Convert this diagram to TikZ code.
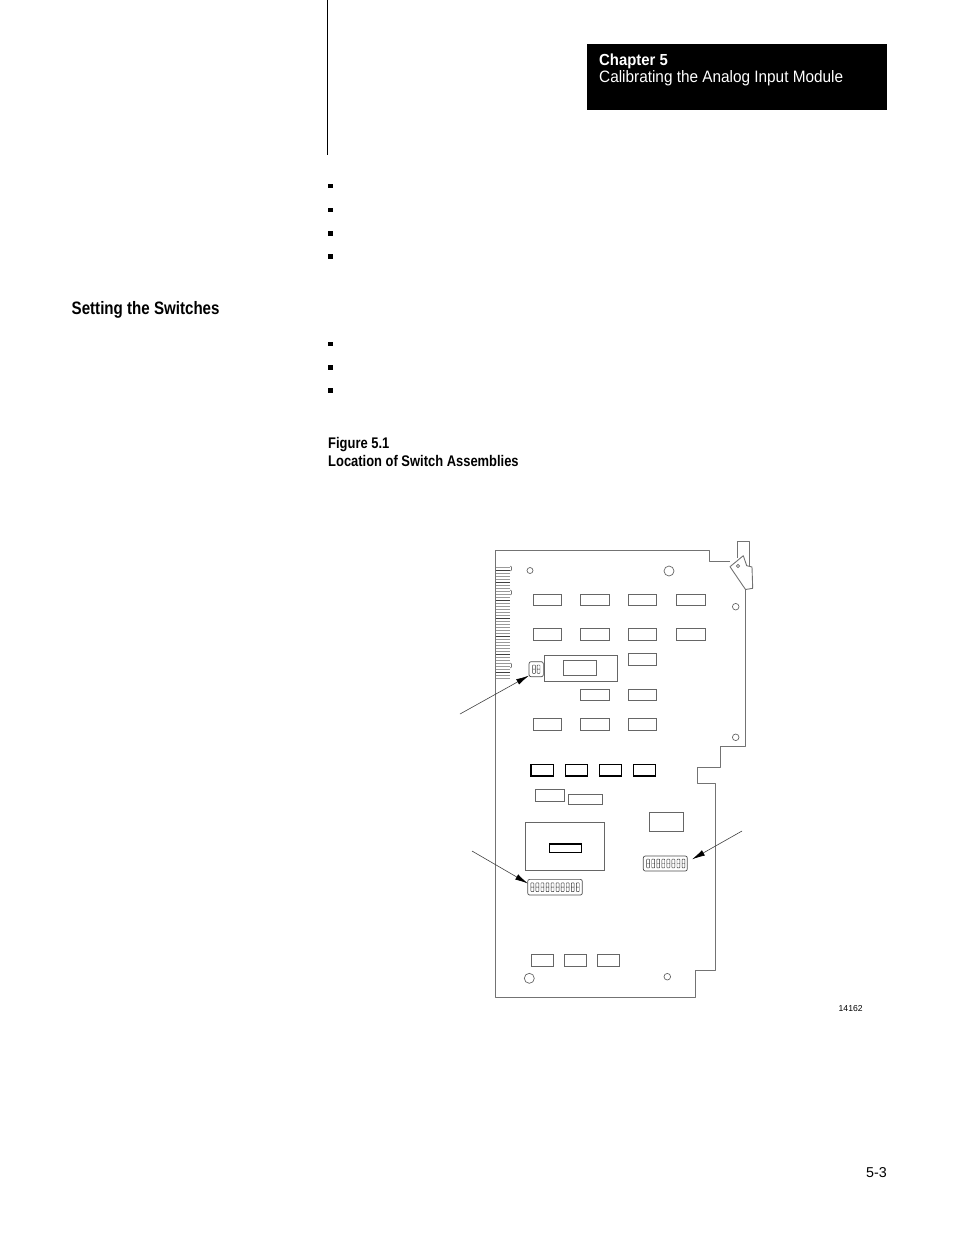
\documentclass[tikz,border=0pt]{standalone}
\usepackage{fontspec}
\setmainfont{Liberation Sans}
\newfontfamily\condbold{Liberation Sans Bold}[FakeStretch=0.84]
\newfontfamily\condreg{Liberation Sans}[FakeStretch=0.93]
\newfontfamily\condhb{Liberation Sans Bold}[FakeStretch=0.93]
\usetikzlibrary{arrows.meta}
\begin{document}
\begin{tikzpicture}[x=1pt,y=-1pt,
  board/.style={draw=black!55,line width=0.9pt,line join=round},
  chip/.style={draw=black!60,line width=0.8pt,fill=white},
  darkchip/.style={draw=black,line width=1.2pt,fill=white},
  hole/.style={draw=black!60,line width=0.7pt},
  bullet/.style={fill=black,minimum size=4.6pt,inner sep=0pt},
  switchbox/.style={draw=black!70,line width=0.7pt,rounded corners=2pt,inner sep=0pt},
  cell/.style={draw=black!80,line width=0.45pt},
  callout/.style={draw=black!75,line width=0.6pt,-{Latex[length=13pt,width=6pt,fill=black,color=black]}},
  txt/.style={anchor=base west,inner sep=0pt}]
\useasboundingbox (0,0) rectangle (954,1235);
% margin rule
\draw[line width=1pt] (327,0) -- (327,155);
% header box
\node[fill=black,anchor=north west,minimum width=300pt,minimum height=66pt,inner sep=0pt] (hdr) at (587,44) {};
\node[txt,text=white] (chap) at (599,65.7) {\fontsize{16}{18}\condhb Chapter 5};
\node[txt,text=white] (cal) at (599,82.5) {\fontsize{16.5}{18}\condreg Calibrating the Analog Input Module};
% bullets
\foreach \y [count=\i] in {186,210,233.3,256.7,344,367.3,390.7}
  \node[bullet] (b\i) at (330.5,\y) {};
% section heading
\node[txt] (sec) at (71.5,314) {\fontsize{18}{20}\condbold Setting the Switches};
% caption
\node[txt] (fig) at (328,448.3) {\fontsize{15.4}{18}\condbold Figure 5.1};
\node[txt] (loc) at (328,466) {\fontsize{15.4}{18}\condbold Location of Switch Assemblies};
% board outline
\draw[board] (730,561) -- (709,561) -- (709,550.7) -- (495.7,550.7) -- (495.7,997.3)
  -- (695.7,997.3) -- (695.7,970.7) -- (715.7,970.7) -- (715.7,783.3) -- (697.3,783.3)
  -- (697.3,767) -- (720,767) -- (720,746.7) -- (745.5,746.7) -- (745.5,589);
% ejector
\draw[board] (737.7,558) -- (737.7,541) -- (749.3,541) -- (749.3,566);
\draw[board] (730,566.7) -- (743.3,555.7) -- (746.7,565.7) -- (752,567) -- (752.7,588.3) -- (745.5,589.5) -- cycle;
\draw[hole] (738,566) circle (1.6);
% edge connector fingers
\foreach \i in {0,...,37}
  \draw[draw=black!40,line width=0.6pt] (495.7,567+3*\i) -- (510.3,567+3*\i);
\foreach \y in {570,582,600,618,636,654,672}
  \draw[draw=black!75,line width=0.6pt] (495.7,\y) -- (510.3,\y);
\foreach \y in {566,590,663}
  \draw[draw=black!55,line width=0.6pt] (510.3,\y) -- (511.5,\y+1) -- (511.5,\y+4) -- (510.3,\y+5);
% holes
\draw[hole] (530,570.5) circle (3);
\draw[hole] (669,571) circle (5);
\draw[hole] (735.7,606.7) circle (3.3);
\draw[hole] (735.7,737.3) circle (3.3);
\draw[hole] (529.3,978.3) circle (5);
\draw[hole] (667.3,976.7) circle (3.3);
% upper chips
\foreach \xa/\xb in {533.3/561.7,580.7/609.3,628.3/656.7,676/705} {
  \draw[chip] (\xa,594) rectangle (\xb,605.7);
  \draw[chip] (\xa,628.3) rectangle (\xb,640);
}
\draw[chip] (544.3,655) rectangle (617.7,681.7);
\draw[chip] (563.3,660.7) rectangle (596.7,675.7);
\draw[chip] (628.3,653.3) rectangle (656.7,665);
\foreach \xa/\xb in {580.7/609.3,628.3/656.7}
  \draw[chip] (\xa,689) rectangle (\xb,700.7);
\foreach \xa/\xb in {533.3/561.7,580.7/609.3,628.3/656.7}
  \draw[chip] (\xa,718.3) rectangle (\xb,730);
% dark chip row
\foreach \xa/\xb in {531/553.3,565.7/587.3,599.3/621.7,633.3/655.7}
  \draw[darkchip] (\xa,764.3) rectangle (\xb,776);
\draw[chip] (535.7,789.3) rectangle (564.3,801);
\draw[chip] (568.3,794.3) rectangle (602.3,804);
\draw[chip] (525.7,822.3) rectangle (604.3,870);
\draw[darkchip] (549.3,844) rectangle (581.7,852.7);
\draw[chip] (649.3,812.3) rectangle (683.3,831);
\foreach \xa/\xb in {531/553.3,564.3/586.7,597.3/619.3}
  \draw[chip] (\xa,954.3) rectangle (\xb,966.7);
% switch assemblies
\node[switchbox,minimum width=14.3pt,minimum height=15pt] (sw1) at (536.2,669.2) {};
\foreach \k in {0,1}
  \draw[cell,rounded corners=0.6pt] (532.6+4.6*\k,665) rectangle ++(2.8,8.4)
    (532.6+4.6*\k,669.2) -- ++(2.8,0);
\node[switchbox,minimum width=54.6pt,minimum height=15.7pt] (sw2) at (555,887.2) {};
\foreach \k in {0,...,9}
  \draw[cell,rounded corners=0.6pt] (530.9+5.05*\k,882.8) rectangle ++(2.9,8.8)
    (530.9+5.05*\k,887.2) -- ++(2.9,0);
\node[switchbox,minimum width=44pt,minimum height=15pt] (sw3) at (665.3,863.5) {};
\foreach \k in {0,...,7}
  \draw[cell,rounded corners=0.6pt] (646.7+5.05*\k,859.1) rectangle ++(2.9,8.8)
    (646.7+5.05*\k,863.5) -- ++(2.9,0);
% callouts
\coordinate (c1) at (460,714);
\coordinate (c2) at (472,851);
\coordinate (c3) at (742,831);
\draw[callout] (c1) -- ([xshift=0.3pt,yshift=1.5pt]sw1.south west);
\draw[callout] (c2) -- ([xshift=0.6pt,yshift=3.7pt]sw2.west);
\draw[callout] (c3) -- ([xshift=4.4pt,yshift=4.2pt]sw3.east);
% figure number and folio
\node[txt] (num) at (838.5,1011) {\fontsize{8.6}{10}\selectfont 14162};
\node[anchor=base east,inner sep=0pt] (folio) at (887,1177) {\fontsize{14.3}{16}\selectfont 5-3};
\end{tikzpicture}
\end{document}
